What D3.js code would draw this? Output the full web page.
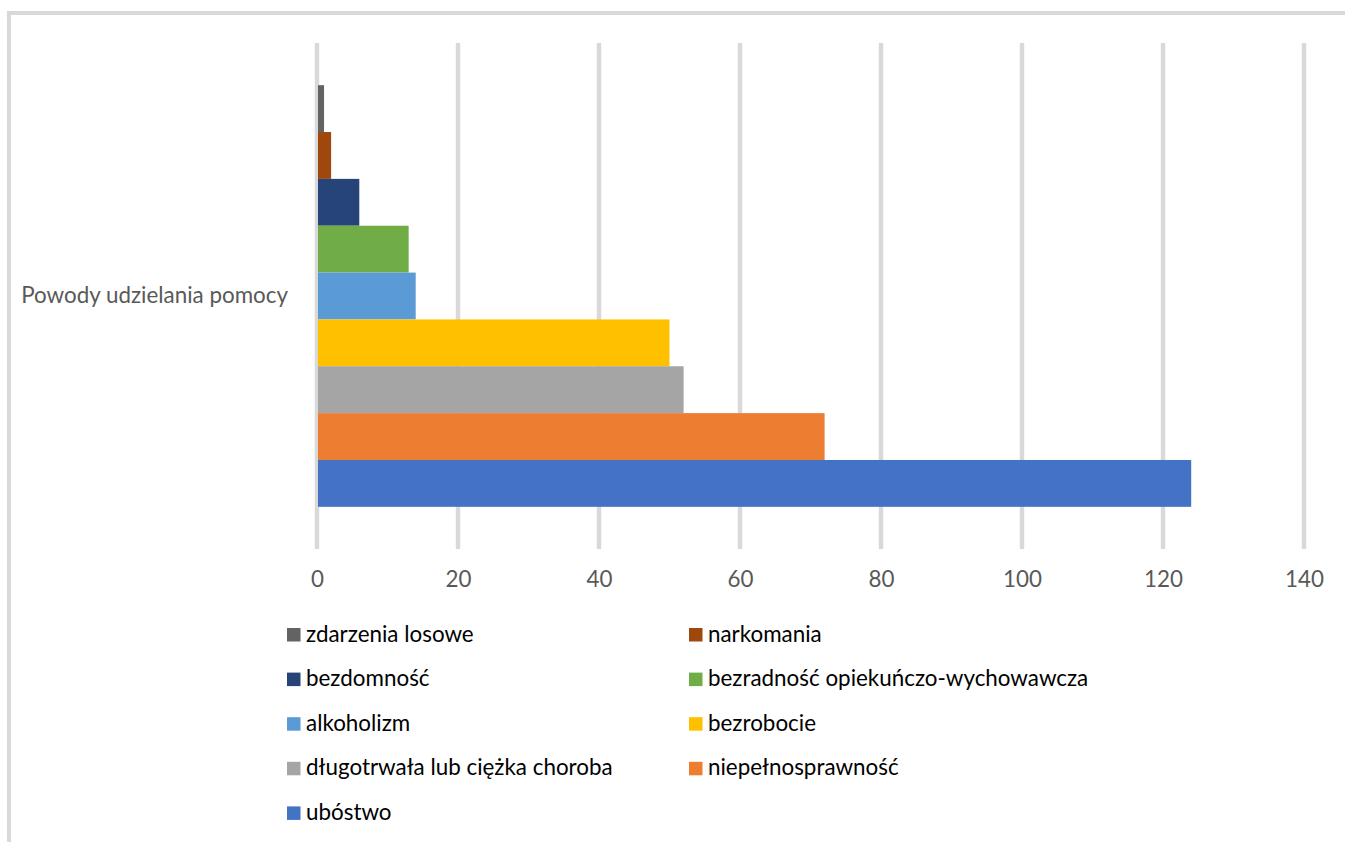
<!DOCTYPE html>
<html>
<head>
<meta charset="utf-8">
<script src="https://cdn.jsdelivr.net/npm/d3@7"></script>
<style>
  body { margin: 0; background: #fff; }
  svg { display: block; font-family: Lato, "Open Sans", sans-serif; }
</style>
</head>
<body>
<script>
const width = 1345, height = 842;

// one category, nine series (top to bottom as drawn)
const categories = ["Powody udzielania pomocy"];
const seriesNames = [
    "zdarzenia losowe", "narkomania", "bezdomność",
    "bezradność opiekuńczo-wychowawcza", "alkoholizm", "bezrobocie",
    "długotrwała lub ciężka choroba", "niepełnosprawność", "ubóstwo"
];
const seriesValues = [1, 2, 6, 13, 14, 50, 52, 72, 124];
const seriesColors = ["#636363", "#9E480E", "#264478", "#70AD47", "#5B9BD5",
    "#FFC000", "#A5A5A5", "#ED7D31", "#4472C4"];
const xTicks = [0, 20, 40, 60, 80, 100, 120, 140];

const svg = d3.select("body").append("svg")
    .attr("width", width)
    .attr("height", height);

// chart frame (runs off right and bottom edge)
svg.append("rect")
    .attr("x", 9).attr("y", 13)
    .attr("width", 1400).attr("height", 900)
    .attr("fill", "#fff")
    .attr("stroke", "#d9d9d9")
    .attr("stroke-width", 4);

const plot = {left: 317, right: 1304, top: 43, bottom: 549};

const x = d3.scaleLinear()
    .domain([0, 140])
    .range([plot.left, plot.right]);

const y0 = d3.scaleBand()
    .domain(categories)
    .range([plot.top, plot.bottom])
    .paddingInner(0)
    .paddingOuter(0.1);

const y1 = d3.scaleBand()
    .domain(seriesNames)
    .range([0, y0.bandwidth()]);

// gridlines
svg.append("g")
    .selectAll("line")
    .data(xTicks)
    .enter().append("line")
    .attr("x1", d => x(d)).attr("x2", d => x(d))
    .attr("y1", plot.top).attr("y2", plot.bottom)
    .attr("stroke", "#d9d9d9")
    .attr("stroke-width", 4.5);

// bars
const rows = seriesNames.map((name, i) => ({name, value: seriesValues[i], color: seriesColors[i]}));
svg.append("g")
    .selectAll("rect")
    .data(rows)
    .enter().append("rect")
    .attr("x", x(0) + 1)
    .attr("y", d => y0(categories[0]) + y1(d.name))
    .attr("width", d => x(d.value) - x(0) - 1)
    .attr("height", y1.bandwidth())
    .attr("fill", d => d.color);

// x axis labels
const xAxis = svg.append("g")
    .attr("transform", `translate(0,${plot.bottom})`)
    .call(d3.axisBottom(x).tickValues(xTicks).tickSize(0).tickPadding(0));
xAxis.select(".domain").remove();
xAxis.selectAll("text")
    .attr("y", 38)
    .attr("dy", null)
    .attr("font-family", "Lato, sans-serif")
    .attr("font-size", 22.4)
    .attr("fill", "#595959");

// category label
svg.append("text")
    .attr("x", 288)
    .attr("y", 302.5)
    .attr("text-anchor", "end")
    .attr("font-size", 22.4)
    .attr("fill", "#595959")
    .text(categories[0]);

// legend, two columns
const legend = svg.append("g")
    .selectAll("g")
    .data(rows)
    .enter().append("g")
    .attr("transform", (d, i) => `translate(${i % 2 === 0 ? 287 : 689},${634.5 + Math.floor(i / 2) * 44.6})`);

legend.append("rect")
    .attr("x", 0).attr("y", -6.5)
    .attr("width", 13.5).attr("height", 13.5)
    .attr("fill", d => d.color);

legend.append("text")
    .attr("x", 19)
    .attr("y", 7)
    .attr("font-size", 22.4)
    .attr("fill", "#000")
    .text(d => d.name);
</script>
</body>
</html>
